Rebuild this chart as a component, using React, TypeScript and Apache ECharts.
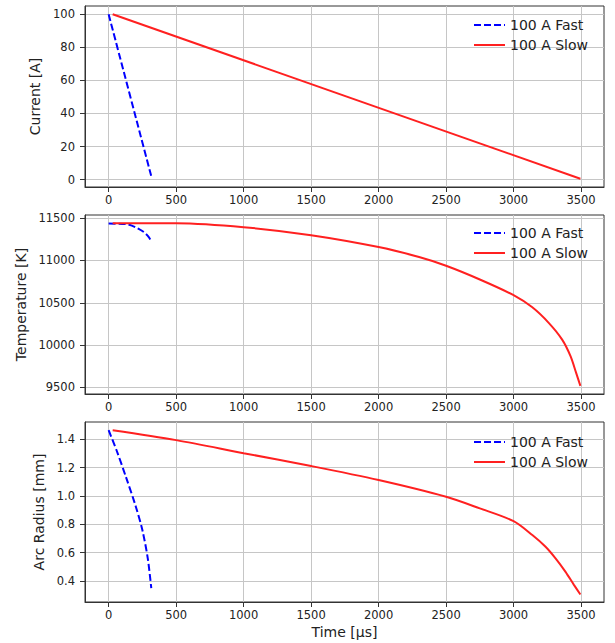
import React, { useEffect, useRef } from "react";
import * as echarts from "echarts";

const FAST = "100 A Fast";
const SLOW = "100 A Slow";

// Tick positions for each axis
const timeTicks = [0, 500, 1000, 1500, 2000, 2500, 3000, 3500];
const currentTicks = [0, 20, 40, 60, 80, 100];
const temperatureTicks = [9500, 10000, 10500, 11000, 11500];
const radiusTicks = [0.4, 0.6, 0.8, 1.0, 1.2, 1.4];

// Current [A] vs time [µs]
const fastCurrentTime = [0, 318];
const fastCurrent = [100, 1.4];
const slowCurrentTime = [30, 3495];
const slowCurrent = [100, 0.5];

// Temperature [K] vs time [µs]
const fastTempTime = [0, 50, 100, 140, 201, 262, 299, 316];
const fastTemp = [11435, 11434, 11431, 11426, 11390, 11333, 11272, 11220];
const slowTempTime = [30, 500, 1000, 1500, 2000, 2300, 2500, 2750, 3000, 3139, 3262, 3360, 3422, 3463, 3495];
const slowTemp = [11440, 11438, 11392, 11298, 11158, 11040, 10937, 10775, 10590, 10446, 10260, 10065, 9870, 9675, 9519];

// Arc radius [mm] vs time [µs]
const fastRadiusTime = [0, 60, 130, 200, 250, 290, 316];
const fastRadius = [1.465, 1.32, 1.13, 0.93, 0.76, 0.56, 0.35];
const slowRadiusTime = [30, 500, 1000, 1500, 2000, 2500, 2750, 3000, 3139, 3237, 3311, 3385, 3446, 3495];
const slowRadius = [1.465, 1.395, 1.303, 1.212, 1.113, 0.995, 0.913, 0.823, 0.725, 0.642, 0.56, 0.465, 0.375, 0.305];

const FONT = "DejaVu Sans";
const TEXT = "#222";
const SPINE = "#333";
const GRIDLINE = "#c6c6c6";

const zip = (xs: number[], ys: number[]) => xs.map((x, i) => [x, ys[i]]);

const panels = [
  { top: 6, height: 181, name: "Current [A]", nameGap: 38, min: -4.5, max: 105, ticks: currentTicks, fmt: (v: number) => String(v), legendTop: 13 },
  { top: 215, height: 179, name: "Temperature [K]", nameGap: 52, min: 9423, max: 11536, ticks: temperatureTicks, fmt: (v: number) => String(v), legendTop: 221 },
  { top: 422, height: 180, name: "Arc Radius [mm]", nameGap: 35, min: 0.252, max: 1.523, ticks: radiusTicks, fmt: (v: number) => v.toFixed(1), legendTop: 430 },
];

const seriesData = [
  [zip(fastCurrentTime, fastCurrent), zip(slowCurrentTime, slowCurrent)],
  [zip(fastTempTime, fastTemp), zip(slowTempTime, slowTemp)],
  [zip(fastRadiusTime, fastRadius), zip(slowRadiusTime, slowRadius)],
];

export default function App() {
  const ref = useRef<HTMLDivElement>(null);

  useEffect(() => {
    if (!ref.current) return;
    const chart = echarts.init(ref.current, null, { renderer: "svg" });

    const grid = panels.map((p) => ({
      left: 85,
      right: 11,
      top: p.top,
      height: p.height,
      show: true,
      borderColor: SPINE,
      borderWidth: 1,
      backgroundColor: "#fff",
    }));

    const xAxis = panels.map((p, i) => ({
      type: "value",
      gridIndex: i,
      min: -175,
      max: 3670,
      position: "bottom",
      name: i === 2 ? "Time [µs]" : "",
      nameLocation: "middle",
      nameGap: 23,
      nameTextStyle: { fontFamily: FONT, fontSize: 14, color: TEXT },
      axisLine: { show: true, onZero: false, lineStyle: { color: SPINE, width: 1 } },
      axisTick: { show: true, inside: false, length: 5, customValues: timeTicks, lineStyle: { color: SPINE } },
      axisLabel: { customValues: timeTicks, margin: 7, fontFamily: FONT, fontSize: 11.5, color: TEXT, formatter: (v: number) => String(v) },
      splitLine: { show: true, lineStyle: { color: GRIDLINE, width: 1 } },
    }));

    const yAxis = panels.map((p, i) => ({
      type: "value",
      gridIndex: i,
      min: p.min,
      max: p.max,
      position: "left",
      name: p.name,
      nameLocation: "middle",
      nameGap: p.nameGap,
      nameTextStyle: { fontFamily: FONT, fontSize: 14, color: TEXT },
      axisLine: { show: true, onZero: false, lineStyle: { color: SPINE, width: 1 } },
      axisTick: { show: true, inside: false, length: 5, customValues: p.ticks, lineStyle: { color: SPINE } },
      axisLabel: { customValues: p.ticks, margin: 10, fontFamily: FONT, fontSize: 11.5, color: TEXT, formatter: p.fmt },
      splitLine: { show: true, lineStyle: { color: GRIDLINE, width: 1 } },
    }));

    const legend = panels.map((p) => ({
      data: [FAST, SLOW],
      left: 468,
      top: p.legendTop,
      orient: "vertical",
      itemWidth: 31,
      itemHeight: 14,
      itemGap: 6,
      selectedMode: false,
      itemStyle: { opacity: 0 },
      textStyle: { fontFamily: FONT, fontSize: 14, color: TEXT },
    }));

    const series: any[] = [];
    seriesData.forEach((pair, i) => {
      series.push({
        name: FAST,
        type: "line",
        xAxisIndex: i,
        yAxisIndex: i,
        data: pair[0],
        symbol: "none",
        smooth: 0.3,
        lineStyle: { color: "#0000ff", width: 2, type: [7, 3] },
        itemStyle: { color: "#0000ff" },
        z: 3,
      });
      series.push({
        name: SLOW,
        type: "line",
        xAxisIndex: i,
        yAxisIndex: i,
        data: pair[1],
        symbol: "none",
        smooth: 0.3,
        lineStyle: { color: "#ff2020", width: 2 },
        itemStyle: { color: "#ff2020" },
        z: 3,
      });
    });

    chart.setOption({
      animation: false,
      backgroundColor: "#fff",
      textStyle: { fontFamily: FONT },
      grid,
      xAxis,
      yAxis,
      legend,
      series,
    });

    return () => chart.dispose();
  }, []);

  return (
    <div
      ref={ref}
      style={{ position: "absolute", left: 0, top: 0, width: 615, height: 643 }}
    />
  );
}
